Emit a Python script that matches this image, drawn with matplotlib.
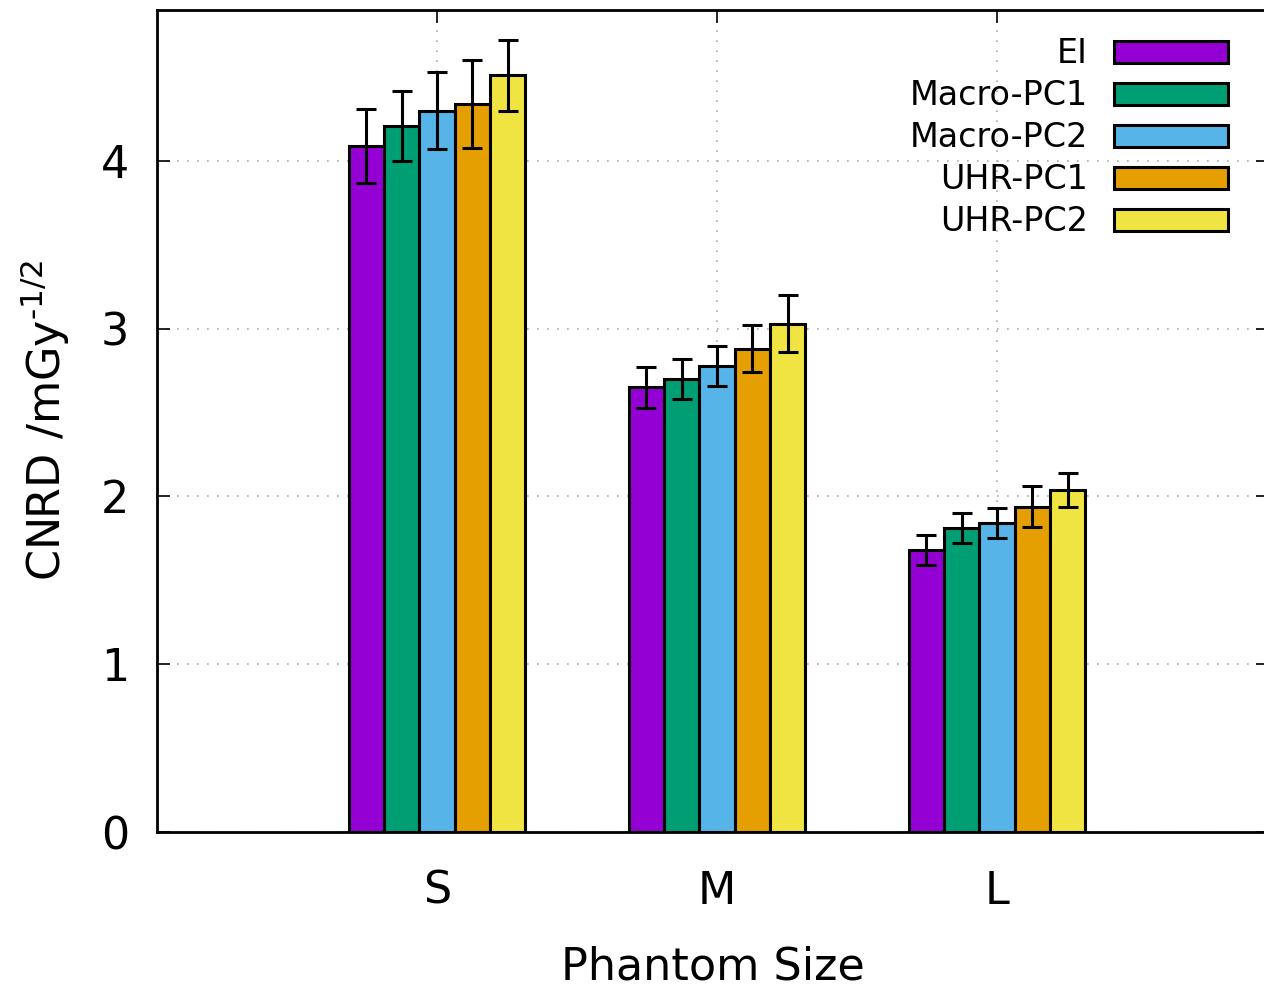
import numpy as np
import matplotlib.pyplot as plt

# Dati
sizes = ["S", "M", "L"]
series = ["EI", "Macro-PC1", "Macro-PC2", "UHR-PC1", "UHR-PC2"]
colors = ["#9400D3", "#009E73", "#56B4E9", "#E69F00", "#F0E442"]

ei = [4.09, 2.65, 1.68]
macro_pc1 = [4.21, 2.70, 1.81]
macro_pc2 = [4.30, 2.78, 1.84]
uhr_pc1 = [4.34, 2.88, 1.94]
uhr_pc2 = [4.51, 3.03, 2.04]

ei_err = [0.22, 0.12, 0.09]
macro_pc1_err = [0.21, 0.12, 0.09]
macro_pc2_err = [0.23, 0.12, 0.09]
uhr_pc1_err = [0.26, 0.14, 0.12]
uhr_pc2_err = [0.21, 0.17, 0.10]

values = [ei, macro_pc1, macro_pc2, uhr_pc1, uhr_pc2]
errors = [ei_err, macro_pc1_err, macro_pc2_err, uhr_pc1_err, uhr_pc2_err]

plt.rcParams['font.family'] = 'DejaVu Sans'

fig = plt.figure(figsize=(12.64, 9.89), dpi=100, facecolor='white')
ax = fig.add_axes([157/1264, 1 - 832/989, 1111/1264, 822/989])

x = np.arange(1, len(sizes) + 1)
width = 0.126
for i, (name, vals, errs, col) in enumerate(zip(series, values, errors, colors)):
    pos = x + (i - 2) * width
    ax.bar(pos, vals, width, color=col, edgecolor='black', linewidth=2.2,
           label=name, zorder=3)
    ax.errorbar(pos, vals, yerr=errs, fmt='none', ecolor='black',
                elinewidth=2.2, capsize=7.5, capthick=2.2, zorder=4)

ax.set_xlim(0, 3.968)
ax.set_ylim(0, 4.9)
ax.set_xticks(x)
ax.set_xticklabels(sizes)
ax.set_yticks([0, 1, 2, 3, 4])

ax.tick_params(axis='both', direction='in', length=9, width=1.2,
               labelsize=32, top=True, right=True)
ax.tick_params(axis='y', pad=20)
ax.tick_params(axis='x', pad=27)

for sp in ax.spines.values():
    sp.set_linewidth(2)

ax.grid(True, linestyle=(0, (1, 5)), color='#aaaaaa', linewidth=1.2, zorder=0)

ax.set_xlabel("Phantom Size", fontsize=32, labelpad=24)
ax.set_ylabel("CNRD /mGy$^{\\mathregular{\u20101/2}}$", fontsize=32, labelpad=21)

ax.legend(loc='upper right', bbox_to_anchor=(1241/1264, 1 - 24/989),
          bbox_transform=fig.transFigure,
          frameon=False, markerfirst=False, fontsize=24,
          handlelength=3.4, handleheight=0.65, handletextpad=0.8,
          labelspacing=0.27, borderaxespad=0)

fig.savefig("out.png", dpi=100, facecolor='white')
